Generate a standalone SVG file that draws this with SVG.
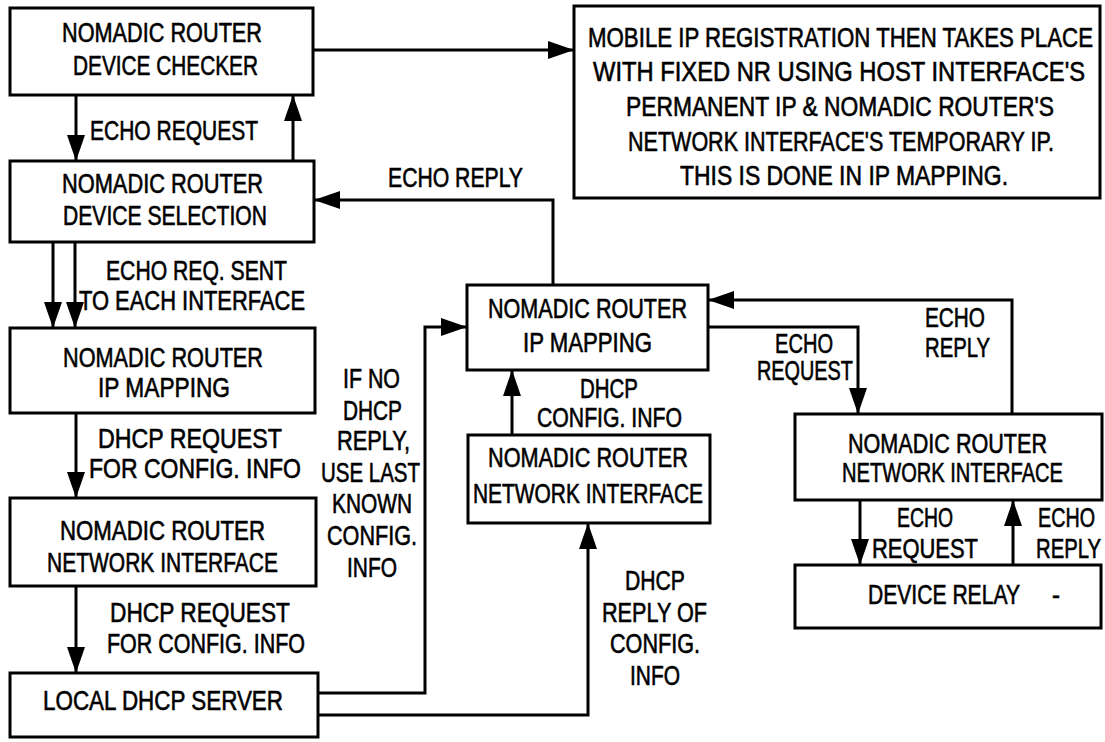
<svg xmlns="http://www.w3.org/2000/svg" width="1105" height="742" viewBox="0 0 1105 742">
<defs>
<style>
.box{fill:#fff;stroke:#000;stroke-width:3}
.ln{fill:none;stroke:#000;stroke-width:3}
.ar{marker-end:url(#ah)}
text{font-family:"Liberation Sans",Arial,sans-serif;font-size:27px;fill:#000;stroke:#000;stroke-width:0.6}
</style>
<marker id="ah" markerUnits="userSpaceOnUse" markerWidth="26" markerHeight="18" refX="25" refY="9" orient="auto" overflow="visible">
<path d="M0,0 L26,9 L0,18 Z" fill="#000"/>
</marker>
</defs>
<rect width="1105" height="742" fill="#fff"/>
<g id="connectors">
<path class="ln ar" d="M76,95 V160"/>
<path class="ln ar" d="M293,161 V96"/>
<path class="ln ar" d="M313,50 H573"/>
<path class="ln ar" d="M553,285 V200 H315"/>
<path class="ln ar" d="M53,242 V327"/>
<path class="ln ar" d="M75,242 V327"/>
<path class="ln ar" d="M76,413 V497"/>
<path class="ln ar" d="M76,586 V672"/>
<path class="ln ar" d="M318,693 H425 V327 H466"/>
<path class="ln ar" d="M318,715 H588 V524"/>
<path class="ln ar" d="M512,435 V371"/>
<path class="ln ar" d="M708,327 H858 V413"/>
<path class="ln ar" d="M1012,414 V300 H709"/>
<path class="ln ar" d="M860,500 V564"/>
<path class="ln ar" d="M1013,565 V501"/>
<g id="labels">
<text x="90" y="140" textLength="168" lengthAdjust="spacingAndGlyphs">ECHO REQUEST</text>
<text x="388" y="187" textLength="135" lengthAdjust="spacingAndGlyphs">ECHO REPLY</text>
<text x="106" y="280" textLength="181" lengthAdjust="spacingAndGlyphs">ECHO REQ. SENT</text>
<text x="79" y="310" textLength="226" lengthAdjust="spacingAndGlyphs">TO EACH INTERFACE</text>
<text x="98" y="448" textLength="184" lengthAdjust="spacingAndGlyphs">DHCP REQUEST</text>
<text x="89" y="478" textLength="212" lengthAdjust="spacingAndGlyphs">FOR CONFIG. INFO</text>
<text x="110" y="622" textLength="180" lengthAdjust="spacingAndGlyphs">DHCP REQUEST</text>
<text x="107" y="653" textLength="198" lengthAdjust="spacingAndGlyphs">FOR CONFIG. INFO</text>
<text x="343" y="388" textLength="57" lengthAdjust="spacingAndGlyphs">IF NO</text>
<text x="343" y="420" textLength="59" lengthAdjust="spacingAndGlyphs">DHCP</text>
<text x="337" y="450" textLength="73" lengthAdjust="spacingAndGlyphs">REPLY,</text>
<text x="321" y="482" textLength="99" lengthAdjust="spacingAndGlyphs">USE LAST</text>
<text x="332" y="513" textLength="80" lengthAdjust="spacingAndGlyphs">KNOWN</text>
<text x="327" y="545" textLength="90" lengthAdjust="spacingAndGlyphs">CONFIG.</text>
<text x="347" y="577" textLength="50" lengthAdjust="spacingAndGlyphs">INFO</text>
<text x="625" y="590" textLength="60" lengthAdjust="spacingAndGlyphs">DHCP</text>
<text x="602" y="622" textLength="105" lengthAdjust="spacingAndGlyphs">REPLY OF</text>
<text x="610" y="653" textLength="90" lengthAdjust="spacingAndGlyphs">CONFIG.</text>
<text x="630" y="685" textLength="50" lengthAdjust="spacingAndGlyphs">INFO</text>
<text x="580" y="398" textLength="58" lengthAdjust="spacingAndGlyphs">DHCP</text>
<text x="537" y="427" textLength="145" lengthAdjust="spacingAndGlyphs">CONFIG. INFO</text>
<text x="775" y="353" textLength="58" lengthAdjust="spacingAndGlyphs">ECHO</text>
<text x="757" y="380" textLength="96" lengthAdjust="spacingAndGlyphs">REQUEST</text>
<text x="925" y="327" textLength="60" lengthAdjust="spacingAndGlyphs">ECHO</text>
<text x="925" y="357" textLength="65" lengthAdjust="spacingAndGlyphs">REPLY</text>
<text x="897" y="527" textLength="56" lengthAdjust="spacingAndGlyphs">ECHO</text>
<text x="872" y="558" textLength="106" lengthAdjust="spacingAndGlyphs">REQUEST</text>
<text x="1038" y="527" textLength="57" lengthAdjust="spacingAndGlyphs">ECHO</text>
<text x="1036" y="558" textLength="65" lengthAdjust="spacingAndGlyphs">REPLY</text>
</g>
</g>
<g id="n1">
<rect class="box" x="10" y="8" width="303" height="87"/>
<text x="62" y="42" textLength="200" lengthAdjust="spacingAndGlyphs">NOMADIC ROUTER</text>
<text x="73" y="75" textLength="185" lengthAdjust="spacingAndGlyphs">DEVICE CHECKER</text>
</g>
<g id="n2">
<rect class="box" x="10" y="161" width="304" height="81"/>
<text x="62" y="193" textLength="201" lengthAdjust="spacingAndGlyphs">NOMADIC ROUTER</text>
<text x="63" y="225" textLength="204" lengthAdjust="spacingAndGlyphs">DEVICE SELECTION</text>
</g>
<g id="n3">
<rect class="box" x="10" y="328" width="305" height="85"/>
<text x="63" y="367" textLength="200" lengthAdjust="spacingAndGlyphs">NOMADIC ROUTER</text>
<text x="98" y="397" textLength="132" lengthAdjust="spacingAndGlyphs">IP MAPPING</text>
</g>
<g id="n4">
<rect class="box" x="10" y="498" width="306" height="88"/>
<text x="60" y="540" textLength="205" lengthAdjust="spacingAndGlyphs">NOMADIC ROUTER</text>
<text x="47" y="572" textLength="231" lengthAdjust="spacingAndGlyphs">NETWORK INTERFACE</text>
</g>
<g id="n5">
<rect class="box" x="10" y="673" width="308" height="64"/>
<text x="43" y="710" textLength="240" lengthAdjust="spacingAndGlyphs">LOCAL DHCP SERVER</text>
</g>
<g id="n6">
<rect class="box" x="574" y="6" width="526" height="192"/>
<text x="588" y="47" textLength="505" lengthAdjust="spacingAndGlyphs">MOBILE IP REGISTRATION THEN TAKES PLACE</text>
<text x="593" y="81" textLength="492" lengthAdjust="spacingAndGlyphs">WITH FIXED NR USING HOST INTERFACE'S</text>
<text x="626" y="116" textLength="428" lengthAdjust="spacingAndGlyphs">PERMANENT IP &amp; NOMADIC ROUTER'S</text>
<text x="628" y="151" textLength="426" lengthAdjust="spacingAndGlyphs">NETWORK INTERFACE'S TEMPORARY IP.</text>
<text x="680" y="185" textLength="328" lengthAdjust="spacingAndGlyphs">THIS IS DONE IN IP MAPPING.</text>
</g>
<g id="n7">
<rect class="box" x="467" y="285" width="241" height="85"/>
<text x="488" y="318" textLength="199" lengthAdjust="spacingAndGlyphs">NOMADIC ROUTER</text>
<text x="523" y="352" textLength="129" lengthAdjust="spacingAndGlyphs">IP MAPPING</text>
</g>
<g id="n8">
<rect class="box" x="468" y="435" width="242" height="88"/>
<text x="488" y="467" textLength="200" lengthAdjust="spacingAndGlyphs">NOMADIC ROUTER</text>
<text x="473" y="503" textLength="230" lengthAdjust="spacingAndGlyphs">NETWORK INTERFACE</text>
</g>
<g id="n9">
<rect class="box" x="795" y="414" width="307" height="86"/>
<text x="848" y="453" textLength="199" lengthAdjust="spacingAndGlyphs">NOMADIC ROUTER</text>
<text x="842" y="482" textLength="221" lengthAdjust="spacingAndGlyphs">NETWORK INTERFACE</text>
</g>
<g id="n10">
<rect class="box" x="795" y="565" width="306" height="63"/>
<text x="868" y="604" textLength="152" lengthAdjust="spacingAndGlyphs">DEVICE RELAY</text>
<text x="1052" y="604" textLength="8" lengthAdjust="spacingAndGlyphs">-</text>
</g>
</svg>
